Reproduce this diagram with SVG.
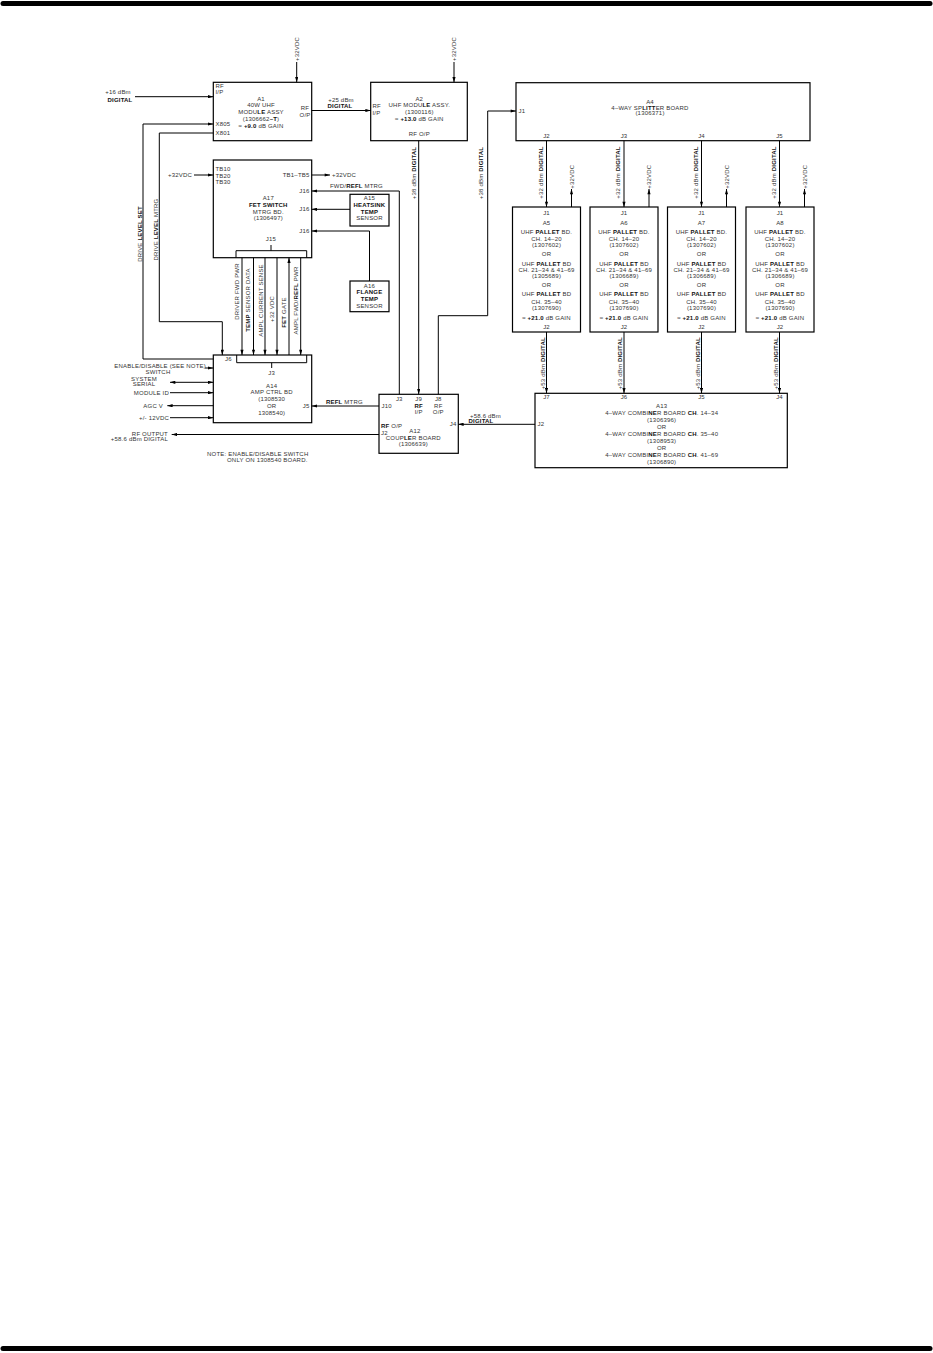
<svg xmlns="http://www.w3.org/2000/svg" width="933" height="1353" viewBox="0 0 933 1353">
<defs>
<style>
.bx{fill:none;stroke:#000;stroke-width:1.2}
.ln{fill:none;stroke:#000;stroke-width:1}
.ar{marker-end:url(#ah)}
.t{font-family:"Liberation Sans",Arial,sans-serif;font-size:6px;letter-spacing:0.2px;fill:#333}
.m{text-anchor:middle}
.e{text-anchor:end}
.b{font-weight:bold;fill:#111}
</style>
<marker id="ah" viewBox="0 0 10 6" refX="10" refY="3" markerWidth="6" markerHeight="3.2" markerUnits="userSpaceOnUse" orient="auto-start-reverse"><path d="M0,0 L10,3 L0,6 z" fill="#000"/></marker>
</defs>
<rect width="933" height="1353" fill="#fff"/>
<line x1="3" y1="3.5" x2="930" y2="3.5" stroke="#000" stroke-width="5" stroke-linecap="round"/>
<line x1="3" y1="1348.5" x2="930" y2="1348.5" stroke="#000" stroke-width="5" stroke-linecap="round"/>

<g id="connectors">
<line class="ln ar" x1="135" y1="96.7" x2="213.3" y2="96.7"/>
<line class="ln ar" x1="296.7" y1="62" x2="296.7" y2="82.3"/>
<line class="ln ar" x1="311.7" y1="110.5" x2="370.7" y2="110.5"/>
<line class="ln ar" x1="454" y1="62" x2="454" y2="82.3"/>
<line class="ln ar" x1="418.7" y1="140.7" x2="418.7" y2="394.3"/>
<polyline class="ln ar" points="438.3,394.3 438.3,315.7 487.7,315.7 487.7,111 516,111"/>
<polyline class="ln ar" points="399.3,394.3 399.3,191 311.7,191"/>
<line class="ln ar" x1="350" y1="209.3" x2="311.7" y2="209.3"/>
<polyline class="ln ar" points="369.5,281 369.5,231 311.7,231"/>
<line class="ln ar" x1="194" y1="175" x2="213.3" y2="175"/>
<line class="ln ar" x1="311.7" y1="175" x2="330" y2="175"/>
<polyline class="ln ar" points="213.3,359 143,359 143,124 213.3,124"/>
<polyline class="ln ar" points="213.3,133 159.3,133 159.3,321.7 222.3,321.7 222.3,355"/>
<line class="ln ar" x1="242" y1="257.7" x2="242" y2="355"/>
<line class="ln ar" x1="253.5" y1="257.7" x2="253.5" y2="355"/>
<line class="ln ar" x1="265" y1="257.7" x2="265" y2="355"/>
<line class="ln ar" x1="277" y1="257.7" x2="277" y2="355"/>
<line class="ln ar" x1="289" y1="355" x2="289" y2="257.7"/>
<line class="ln ar" x1="300.7" y1="257.7" x2="300.7" y2="355"/>
<line class="ln ar" x1="205" y1="368" x2="213.3" y2="368"/>
<line class="ln ar" x1="170" y1="382.3" x2="213.3" y2="382.3" marker-start="url(#ah)"/>
<line class="ln ar" x1="170" y1="392.7" x2="213.3" y2="392.7"/>
<line class="ln ar" x1="213.3" y1="405.7" x2="167.3" y2="405.7"/>
<line class="ln ar" x1="170" y1="417.7" x2="213.3" y2="417.7"/>
<line class="ln ar" x1="379" y1="406" x2="311.7" y2="406"/>
<line class="ln ar" x1="379" y1="434.5" x2="171.7" y2="434.5"/>
<line class="ln ar" x1="535" y1="424.3" x2="458.3" y2="424.3"/>
<line class="ln ar" x1="546.5" y1="140.7" x2="546.5" y2="207"/>
<line class="ln ar" x1="624" y1="140.7" x2="624" y2="207"/>
<line class="ln ar" x1="701.5" y1="140.7" x2="701.5" y2="207"/>
<line class="ln ar" x1="779.5" y1="140.7" x2="779.5" y2="207"/>
<line class="ln ar" x1="571.5" y1="207" x2="571.5" y2="189"/>
<line class="ln ar" x1="649" y1="207" x2="649" y2="189"/>
<line class="ln ar" x1="726.5" y1="207" x2="726.5" y2="189"/>
<line class="ln ar" x1="804.5" y1="207" x2="804.5" y2="189"/>
<line class="ln ar" x1="546.5" y1="332" x2="546.5" y2="393.3"/>
<line class="ln ar" x1="624" y1="332" x2="624" y2="393.3"/>
<line class="ln ar" x1="701.5" y1="332" x2="701.5" y2="393.3"/>
<line class="ln ar" x1="779.5" y1="332" x2="779.5" y2="393.3"/>

<text class="t m" x="118" y="94">+16 dBm</text>
<text class="t m" x="120" y="101.5"><tspan class="b">DIGITAL</tspan></text>
<text class="t m" transform="translate(298.7,49) rotate(-90)">+32VDC</text>
<text class="t m" transform="translate(456,49) rotate(-90)">+32VDC</text>
<text class="t m" x="341" y="102">+25 dBm</text>
<text class="t m" x="340" y="108"><tspan class="b">DIGITAL</tspan></text>
<text class="t m" transform="translate(415.5,173) rotate(-90)">+38 dBm <tspan class="b">DIGITAL</tspan></text>
<text class="t m" transform="translate(483,173) rotate(-90)">+38 dBm <tspan class="b">DIGITAL</tspan></text>
<text class="t" x="330" y="188">FWD/<tspan class="b">REFL</tspan> MTRG</text>
<text class="t e" x="192" y="177">+32VDC</text>
<text class="t" x="332" y="177">+32VDC</text>
<text class="t m" transform="translate(142,234) rotate(-90)">DRIVE <tspan class="b">LEVEL SET</tspan></text>
<text class="t m" transform="translate(158,229.5) rotate(-90)">DRIVE <tspan class="b">LEVEL</tspan> MTRG</text>
<text class="t m" transform="translate(239,291.5) rotate(-90)">DRIVER FWD PWR</text>
<text class="t m" transform="translate(250,300) rotate(-90)"><tspan class="b">TEMP</tspan> SENSOR DATA</text>
<text class="t m" transform="translate(262.5,300.5) rotate(-90)">AMPL CURRENT SENSE</text>
<text class="t m" transform="translate(274,309) rotate(-90)">+32 VDC</text>
<text class="t m" transform="translate(286,312.5) rotate(-90)"><tspan class="b">FET</tspan> GATE</text>
<text class="t m" transform="translate(297.5,300.5) rotate(-90)">AMPL FWD/<tspan class="b">REFL</tspan> PWR</text>
<text class="t e" x="206" y="368">ENABLE/DISABLE (SEE NOTE)</text>
<text class="t m" x="158" y="373.7">SWITCH</text>
<text class="t m" x="144" y="381">SYSTEM</text>
<text class="t m" x="144" y="386.3">SERIAL</text>
<text class="t e" x="169" y="394.7">MODULE ID</text>
<text class="t e" x="163" y="407.7">AGC V</text>
<text class="t e" x="169" y="419.7">+/- 12VDC</text>
<text class="t" x="326" y="403.7"><tspan class="b">REFL</tspan> MTRG</text>
<text class="t e" x="168" y="435.7">RF OUTPUT</text>
<text class="t e" x="168" y="441">+58.6 dBm DIGITAL</text>
<text class="t" x="207" y="456">NOTE: ENABLE/DISABLE SWITCH</text>
<text class="t" x="227" y="462">ONLY ON 1308540 BOARD.</text>
<text class="t" x="470" y="418">+58.6 dBm</text>
<text class="t m" x="481" y="423"><tspan class="b">DIGITAL</tspan></text>
<text class="t m" transform="translate(542.5,172.5) rotate(-90)">+32 dBm <tspan class="b">DIGITAL</tspan></text>
<text class="t m" transform="translate(620,172.5) rotate(-90)">+32 dBm <tspan class="b">DIGITAL</tspan></text>
<text class="t m" transform="translate(697.5,172.5) rotate(-90)">+32 dBm <tspan class="b">DIGITAL</tspan></text>
<text class="t m" transform="translate(775.5,172.5) rotate(-90)">+32 dBm <tspan class="b">DIGITAL</tspan></text>
<text class="t m" transform="translate(573.5,176.7) rotate(-90)">+32VDC</text>
<text class="t m" transform="translate(651,176.7) rotate(-90)">+32VDC</text>
<text class="t m" transform="translate(728.5,176.7) rotate(-90)">+32VDC</text>
<text class="t m" transform="translate(806.5,176.7) rotate(-90)">+32VDC</text>
<text class="t m" transform="translate(544.5,363.3) rotate(-90)">+53 dBm <tspan class="b">DIGITAL</tspan></text>
<text class="t m" transform="translate(622,363.3) rotate(-90)">+53 dBm <tspan class="b">DIGITAL</tspan></text>
<text class="t m" transform="translate(699.5,363.3) rotate(-90)">+53 dBm <tspan class="b">DIGITAL</tspan></text>
<text class="t m" transform="translate(777.5,363.3) rotate(-90)">+53 dBm <tspan class="b">DIGITAL</tspan></text>
</g>

<g id="A1">
<rect class="bx" x="213.3" y="82.3" width="98.4" height="58.4"/>
<text class="t" x="215.5" y="88">RF</text>
<text class="t" x="215.5" y="94">I/P</text>
<text class="t m" x="261" y="100.5">A1</text>
<text class="t m" x="261" y="107">40W UHF</text>
<text class="t m" x="261" y="114">MODU<tspan class="b">LE</tspan> ASSY</text>
<text class="t m" x="261" y="121">(1306662<tspan class="b">–T</tspan>)</text>
<text class="t m" x="261" y="128">≈ <tspan class="b">+9.0</tspan> dB GAIN</text>
<text class="t m" x="305" y="110">RF</text>
<text class="t m" x="305" y="117">O/P</text>
<text class="t" x="215.5" y="126.3">X805</text>
<text class="t" x="215.5" y="134.7">X801</text>
</g>

<g id="A2">
<rect class="bx" x="370.7" y="82.3" width="96.6" height="58.4"/>
<text class="t" x="372.5" y="108">RF</text>
<text class="t" x="372.5" y="115">I/P</text>
<text class="t m" x="419.3" y="101">A2</text>
<text class="t m" x="419.3" y="107.3">UHF MODU<tspan class="b">LE</tspan> ASSY.</text>
<text class="t m" x="419.3" y="113.7">(1300116)</text>
<text class="t m" x="419.3" y="121">≈ <tspan class="b">+13.0</tspan> dB GAIN</text>
<text class="t m" x="419.3" y="136">RF O/P</text>
</g>

<g id="A4">
<rect class="bx" x="516" y="82.7" width="294" height="58"/>
<text class="t" x="518.5" y="113">J1</text>
<text class="t m" x="650" y="103.5">A4</text>
<text class="t m" x="650" y="109.5">4–WAY SP<tspan class="b">LITT</tspan>ER BOARD</text>
<text class="t m" x="650" y="115">(1306371)</text>
<text class="t m" x="546.5" y="137.7">J2</text>
<text class="t m" x="624" y="137.7">J3</text>
<text class="t m" x="701.5" y="137.7">J4</text>
<text class="t m" x="779.5" y="137.7">J5</text>
</g>

<g id="A5">
<rect class="bx" x="512.5" y="207" width="68" height="125"/>
<text class="t m" x="546.5" y="215">J1</text>
<text class="t m" x="546.5" y="224.5">A5</text>
<text class="t m" x="546.5" y="234.3">UHF <tspan class="b">PALLET</tspan> BD.</text>
<text class="t m" x="546.5" y="240.5">CH. 14–20</text>
<text class="t m" x="546.5" y="247.1">(1307602)</text>
<text class="t m" x="546.5" y="256.2">OR</text>
<text class="t m" x="546.5" y="265.6">UHF <tspan class="b">PALLET</tspan> BD</text>
<text class="t m" x="546.5" y="271.8">CH. 21–34 &amp; 41–69</text>
<text class="t m" x="546.5" y="278">(1305689)</text>
<text class="t m" x="546.5" y="287">OR</text>
<text class="t m" x="546.5" y="296.1">UHF <tspan class="b">PALLET</tspan> BD</text>
<text class="t m" x="546.5" y="303.5">CH. 35–40</text>
<text class="t m" x="546.5" y="309.7">(1307690)</text>
<text class="t m" x="546.5" y="320">≈ <tspan class="b">+21.0</tspan> dB GAIN</text>
<text class="t m" x="546.5" y="329">J2</text>
</g>

<g id="A6">
<rect class="bx" x="590" y="207" width="68" height="125"/>
<text class="t m" x="624" y="215">J1</text>
<text class="t m" x="624" y="224.5">A6</text>
<text class="t m" x="624" y="234.3">UHF <tspan class="b">PALLET</tspan> BD.</text>
<text class="t m" x="624" y="240.5">CH. 14–20</text>
<text class="t m" x="624" y="247.1">(1307602)</text>
<text class="t m" x="624" y="256.2">OR</text>
<text class="t m" x="624" y="265.6">UHF <tspan class="b">PALLET</tspan> BD</text>
<text class="t m" x="624" y="271.8">CH. 21–34 &amp; 41–69</text>
<text class="t m" x="624" y="278">(1306689)</text>
<text class="t m" x="624" y="287">OR</text>
<text class="t m" x="624" y="296.1">UHF <tspan class="b">PALLET</tspan> BD</text>
<text class="t m" x="624" y="303.5">CH. 35–40</text>
<text class="t m" x="624" y="309.7">(1307690)</text>
<text class="t m" x="624" y="320">≈ <tspan class="b">+21.0</tspan> dB GAIN</text>
<text class="t m" x="624" y="329">J2</text>
</g>

<g id="A7">
<rect class="bx" x="667.5" y="207" width="68" height="125"/>
<text class="t m" x="701.5" y="215">J1</text>
<text class="t m" x="701.5" y="224.5">A7</text>
<text class="t m" x="701.5" y="234.3">UHF <tspan class="b">PALLET</tspan> BD.</text>
<text class="t m" x="701.5" y="240.5">CH. 14–20</text>
<text class="t m" x="701.5" y="247.1">(1307602)</text>
<text class="t m" x="701.5" y="256.2">OR</text>
<text class="t m" x="701.5" y="265.6">UHF <tspan class="b">PALLET</tspan> BD</text>
<text class="t m" x="701.5" y="271.8">CH. 21–34 &amp; 41–69</text>
<text class="t m" x="701.5" y="278">(1306689)</text>
<text class="t m" x="701.5" y="287">OR</text>
<text class="t m" x="701.5" y="296.1">UHF <tspan class="b">PALLET</tspan> BD</text>
<text class="t m" x="701.5" y="303.5">CH. 35–40</text>
<text class="t m" x="701.5" y="309.7">(1307690)</text>
<text class="t m" x="701.5" y="320">≈ <tspan class="b">+21.0</tspan> dB GAIN</text>
<text class="t m" x="701.5" y="329">J2</text>
</g>

<g id="A8">
<rect class="bx" x="746" y="207" width="68" height="125"/>
<text class="t m" x="780" y="215">J1</text>
<text class="t m" x="780" y="224.5">A8</text>
<text class="t m" x="780" y="234.3">UHF <tspan class="b">PALLET</tspan> BD.</text>
<text class="t m" x="780" y="240.5">CH. 14–20</text>
<text class="t m" x="780" y="247.1">(1307602)</text>
<text class="t m" x="780" y="256.2">OR</text>
<text class="t m" x="780" y="265.6">UHF <tspan class="b">PALLET</tspan> BD</text>
<text class="t m" x="780" y="271.8">CH. 21–34 &amp; 41–69</text>
<text class="t m" x="780" y="278">(1306689)</text>
<text class="t m" x="780" y="287">OR</text>
<text class="t m" x="780" y="296.1">UHF <tspan class="b">PALLET</tspan> BD</text>
<text class="t m" x="780" y="303.5">CH. 35–40</text>
<text class="t m" x="780" y="309.7">(1307690)</text>
<text class="t m" x="780" y="320">≈ <tspan class="b">+21.0</tspan> dB GAIN</text>
<text class="t m" x="780" y="329">J2</text>
</g>

<g id="A17">
<rect class="bx" x="213.3" y="160" width="98.4" height="97.7"/>
<text class="t" x="215.5" y="171.3">TB10</text>
<text class="t" x="215.5" y="177.7">TB20</text>
<text class="t" x="215.5" y="184.3">TB30</text>
<text class="t e" x="309.5" y="177">TB1–TB5</text>
<text class="t e" x="309.5" y="193">J16</text>
<text class="t e" x="309.5" y="211.3">J16</text>
<text class="t e" x="309.5" y="233">J16</text>
<text class="t m" x="268.3" y="199.7">A17</text>
<text class="t m" x="268.3" y="207"><tspan class="b">FET SWITCH</tspan></text>
<text class="t m" x="268.3" y="213.7">MTRG BD.</text>
<text class="t m" x="268.3" y="219.7">(1306497)</text>
<text class="t m" x="271" y="241.3">J15</text>
<polyline class="ln" points="236,257.7 236,250.7 306.7,250.7 306.7,257.7"/>
<line class="ln" x1="271" y1="250.7" x2="271" y2="245"/>
</g>

<g id="A15">
<rect class="bx" x="350" y="194.3" width="39" height="31.7"/>
<text class="t m" x="369.5" y="200.3">A15</text>
<text class="t m" x="369.5" y="207"><tspan class="b">HEATSINK</tspan></text>
<text class="t m" x="369.5" y="213.7"><tspan class="b">TEMP</tspan></text>
<text class="t m" x="369.5" y="220.3">SENSOR</text>
</g>

<g id="A16">
<rect class="bx" x="350" y="281" width="39" height="30.7"/>
<text class="t m" x="369.5" y="288">A16</text>
<text class="t m" x="369.5" y="294.3"><tspan class="b">FLANGE</tspan></text>
<text class="t m" x="369.5" y="301"><tspan class="b">TEMP</tspan></text>
<text class="t m" x="369.5" y="307.7">SENSOR</text>
</g>

<g id="A14">
<rect class="bx" x="213.3" y="355" width="98.4" height="67.7"/>
<text class="t" x="225" y="361">J6</text>
<polyline class="ln" points="236.7,355 236.7,362.7 306.7,362.7 306.7,355"/>
<line class="ln" x1="271.7" y1="362.7" x2="271.7" y2="368"/>
<text class="t m" x="271.7" y="374.7">J3</text>
<text class="t m" x="271.7" y="387.7">A14</text>
<text class="t m" x="271.7" y="394.3">AMP CTRL BD</text>
<text class="t m" x="271.7" y="401">(1308530</text>
<text class="t m" x="271.7" y="408">OR</text>
<text class="t m" x="271.7" y="414.7">1308540)</text>
<text class="t e" x="309.5" y="407.7">J5</text>
</g>

<g id="A12">
<rect class="bx" x="379" y="394.3" width="79.3" height="59"/>
<text class="t m" x="399.3" y="401">J3</text>
<text class="t m" x="418.7" y="401">J9</text>
<text class="t m" x="438.3" y="401">J8</text>
<text class="t m" x="418.7" y="407.7"><tspan class="b">RF</tspan></text>
<text class="t m" x="418.7" y="413.7">I/P</text>
<text class="t m" x="438.3" y="407.7">RF</text>
<text class="t m" x="438.3" y="413.7">O/P</text>
<text class="t" x="381.5" y="408">J10</text>
<text class="t" x="381" y="428"><tspan class="b">RF</tspan> O/P</text>
<text class="t" x="381" y="434.7">J2</text>
<text class="t m" x="415" y="433">A12</text>
<text class="t m" x="413.3" y="439.7">COUP<tspan class="b">LE</tspan>R BOARD</text>
<text class="t m" x="413.3" y="446">(1306639)</text>
<text class="t e" x="456.5" y="426.3">J4</text>
</g>

<g id="A13">
<rect class="bx" x="535" y="393.3" width="252.3" height="74.4"/>
<text class="t m" x="546.5" y="399.3">J7</text>
<text class="t m" x="624" y="399.3">J6</text>
<text class="t m" x="701.5" y="399.3">J5</text>
<text class="t m" x="779.5" y="399.3">J4</text>
<text class="t" x="537.5" y="426.3">J2</text>
<text class="t m" x="661.7" y="408">A13</text>
<text class="t m" x="661.7" y="415.3">4–WAY COMBI<tspan class="b">NE</tspan>R BOARD <tspan class="b">CH</tspan>. 14–34</text>
<text class="t m" x="661.7" y="422">(1306396)</text>
<text class="t m" x="661.7" y="429.3">OR</text>
<text class="t m" x="661.7" y="436.3">4–WAY COMBI<tspan class="b">NE</tspan>R BOARD <tspan class="b">CH</tspan>. 35–40</text>
<text class="t m" x="661.7" y="443">(1308953)</text>
<text class="t m" x="661.7" y="450">OR</text>
<text class="t m" x="661.7" y="457">4–WAY COMBI<tspan class="b">NE</tspan>R BOARD <tspan class="b">CH</tspan>. 41–69</text>
<text class="t m" x="661.7" y="464">(1306890)</text>
</g>
</svg>
